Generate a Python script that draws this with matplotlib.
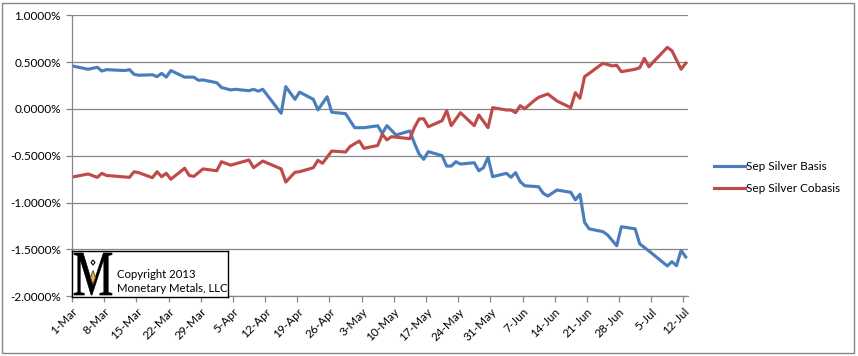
import numpy as np
import pandas as pd
import matplotlib
matplotlib.use('Agg')
import matplotlib.pyplot as plt
import matplotlib.dates as mdates
from matplotlib.ticker import FuncFormatter, MultipleLocator
from matplotlib.textpath import TextPath
from matplotlib.patches import PathPatch, Rectangle, Polygon
from matplotlib.transforms import Affine2D
from matplotlib.font_manager import FontProperties

#----------------------------------------------------------------------------

YEAR = 2013

basis_dates = ['1-Mar', '4-Mar', '6-Mar', '7-Mar', '8-Mar', '12-Mar', '13-Mar', '14-Mar',
               '15-Mar', '18-Mar', '19-Mar', '20-Mar', '21-Mar', '22-Mar', '25-Mar', '27-Mar',
               '28-Mar', '29-Mar', '1-Apr', '2-Apr', '4-Apr', '5-Apr', '8-Apr', '9-Apr',
               '10-Apr', '11-Apr', '15-Apr', '16-Apr', '18-Apr', '19-Apr', '22-Apr', '23-Apr',
               '25-Apr', '26-Apr', '29-Apr', '1-May', '3-May', '6-May', '7-May', '8-May',
               '10-May', '13-May', '14-May', '15-May', '16-May', '17-May', '20-May', '21-May',
               '22-May', '23-May', '24-May', '27-May', '28-May', '29-May', '30-May', '31-May',
               '3-Jun', '4-Jun', '5-Jun', '6-Jun', '7-Jun', '10-Jun', '11-Jun', '12-Jun',
               '14-Jun', '17-Jun', '18-Jun', '19-Jun', '20-Jun', '21-Jun', '24-Jun', '25-Jun',
               '27-Jun', '28-Jun', '1-Jul', '2-Jul', '4-Jul', '8-Jul', '9-Jul', '10-Jul',
               '11-Jul', '12-Jul']
basis_values = [0.455, 0.424, 0.445, 0.405, 0.42, 0.41, 0.42, 0.37,
                0.36, 0.365, 0.345, 0.38, 0.34, 0.41, 0.34, 0.34,
                0.306, 0.31, 0.28, 0.23, 0.203, 0.21, 0.195, 0.21,
                0.19, 0.21, -0.046, 0.238, 0.103, 0.18, 0.103, -0.01,
                0.13, -0.035, -0.05, -0.20, -0.20, -0.18, -0.26, -0.178,
                -0.278, -0.235, -0.367, -0.48, -0.537, -0.456, -0.498, -0.61,
                -0.61, -0.563, -0.588, -0.574, -0.66, -0.627, -0.516, -0.723,
                -0.687, -0.73, -0.68, -0.776, -0.82, -0.83, -0.90, -0.93,
                -0.865, -0.89, -0.97, -0.91, -1.21, -1.28, -1.31, -1.345,
                -1.46, -1.257, -1.28, -1.44, -1.516, -1.676, -1.63, -1.673,
                -1.51, -1.58]

cobasis_dates = ['1-Mar', '4-Mar', '6-Mar', '7-Mar', '8-Mar', '13-Mar', '14-Mar', '15-Mar',
                 '18-Mar', '19-Mar', '20-Mar', '21-Mar', '22-Mar', '25-Mar', '26-Mar', '27-Mar',
                 '29-Mar', '1-Apr', '2-Apr', '4-Apr', '8-Apr', '9-Apr', '11-Apr', '15-Apr',
                 '16-Apr', '18-Apr', '19-Apr', '22-Apr', '23-Apr', '24-Apr', '26-Apr', '29-Apr',
                 '30-Apr', '2-May', '3-May', '6-May', '7-May', '8-May', '9-May', '13-May',
                 '14-May', '15-May', '16-May', '17-May', '20-May', '21-May', '22-May', '24-May',
                 '27-May', '28-May', '30-May', '31-May', '3-Jun', '4-Jun', '5-Jun', '6-Jun',
                 '7-Jun', '9-Jun', '10-Jun', '12-Jun', '14-Jun', '17-Jun', '18-Jun', '19-Jun',
                 '20-Jun', '21-Jun', '24-Jun', '26-Jun', '27-Jun', '28-Jun', '1-Jul', '2-Jul',
                 '3-Jul', '4-Jul', '5-Jul', '8-Jul', '9-Jul', '11-Jul', '12-Jul']
cobasis_values = [-0.723, -0.694, -0.73, -0.687, -0.71, -0.73, -0.67, -0.68,
                  -0.734, -0.67, -0.723, -0.687, -0.75, -0.633, -0.71, -0.72,
                  -0.64, -0.66, -0.563, -0.60, -0.545, -0.627, -0.556, -0.64,
                  -0.78, -0.676, -0.67, -0.627, -0.548, -0.58, -0.449, -0.46,
                  -0.40, -0.342, -0.42, -0.39, -0.27, -0.33, -0.296, -0.317,
                  -0.196, -0.107, -0.104, -0.19, -0.125, -0.018, -0.178, -0.04,
                  -0.178, -0.064, -0.20, 0.014, -0.011, -0.011, -0.04, 0.035,
                  0.003, 0.088, 0.124, 0.16, 0.085, 0.014, 0.174, 0.114,
                  0.345, 0.38, 0.488, 0.46, 0.466, 0.398, 0.424, 0.44,
                  0.54, 0.45, 0.504, 0.658, 0.622, 0.424, 0.488]

series_labels = ['Sep Silver Basis', 'Sep Silver Cobasis']
series_colors = ['#4A7EBB', '#BE4B48']

#----------------------------------------------------------------------------

FONT = ['Lato', 'DejaVu Sans']
GRAY = '#868686'

def _toDates(labels):
    # Excel date axis puts each point in the middle of its day
    d = pd.to_datetime(['%s-%d' % (s, YEAR) for s in labels], format='%d-%b-%Y')
    return d + pd.Timedelta(hours=12)

def _drawLogo(fig):
    W, H = 858.0, 356.0
    box = fig.add_axes([72 / W, 1 - 296.5 / H, 156 / W, 45.5 / H])
    box.set_xlim(0, 156)
    box.set_ylim(0, 45.5)
    box.set_xticks([])
    box.set_yticks([])
    for s in box.spines.values():
        s.set_color('black')
        s.set_linewidth(1.0)

    # big serif M stretched to the logo size
    tp = TextPath((0, 0), 'M', size=1, prop=FontProperties(family='Liberation Serif'))
    ext = tp.get_extents()
    tr = Affine2D().translate(-ext.x0, -ext.y0).scale(38 / ext.width, 42 / ext.height).translate(2, 1.5)
    box.add_patch(PathPatch(tr.transform_path(tp), facecolor='black', edgecolor='black', linewidth=0.5))
    box.add_patch(Polygon([(21, 26), (23.5, 19), (21, 12), (18.5, 19)], closed=True,
                          facecolor='#F2B04A', edgecolor='#4A3A20', linewidth=0.6))
    box.add_patch(Polygon([(21, 36.5), (23, 34), (21, 31.5), (19, 34)], closed=True,
                          facecolor='white', edgecolor='black', linewidth=0.8))

    box.text(45, 22.5, 'Copyright 2013', fontsize=8.2, family=FONT, va='center', ha='left')
    box.text(45, 8.5, 'Monetary Metals, LLC', fontsize=8.2, family=FONT, va='center', ha='left')

#----------------------------------------------------------------------------

def basisChart():
    W, H = 858.0, 356.0
    fig = plt.figure(figsize=(W / 100, H / 100), dpi=100)
    fig.patch.set_facecolor('white')
    fig.add_artist(Rectangle((2 / W, 3 / H), 852 / W, 350 / H, transform=fig.transFigure,
                             fill=False, edgecolor=GRAY, linewidth=1.0))

    ax = fig.add_axes([72 / W, 1 - 296.3 / H, 616 / W, 281 / H])

    lines = []
    for dates, vals, c in [(basis_dates, basis_values, series_colors[0]),
                           (cobasis_dates, cobasis_values, series_colors[1])]:
        l, = ax.plot(_toDates(dates), vals, color=c, linewidth=2.25, solid_joinstyle='round')
        lines.append(l)

    ax.set_ylim(-2, 1)
    ax.yaxis.set_major_locator(MultipleLocator(0.5))
    ax.yaxis.set_major_formatter(FuncFormatter(lambda v, p: '%.4f%%' % v))
    ax.yaxis.grid(True, color=GRAY, linewidth=0.9)
    ax.set_axisbelow(True)

    start = pd.Timestamp('%d-03-01' % YEAR)
    end = pd.Timestamp('%d-07-13' % YEAR)
    ax.set_xlim(start, end)
    ticks = pd.date_range(start, '%d-07-12' % YEAR, freq='7D')
    ax.set_xticks(ticks)
    ax.xaxis.set_major_formatter(mdates.DateFormatter('%-d-%b'))

    for s in ['top', 'right']:
        ax.spines[s].set_visible(False)
    for s in ['left', 'bottom']:
        ax.spines[s].set_color(GRAY)
        ax.spines[s].set_linewidth(0.9)

    ax.tick_params(axis='both', colors=GRAY, length=4, width=0.9, labelcolor='black', labelsize=8.5)
    ax.tick_params(axis='y', pad=4)
    ax.tick_params(axis='x', pad=3)
    for lab in ax.get_xticklabels():
        lab.set_rotation(45)
        lab.set_ha('right')
        lab.set_rotation_mode('anchor')
        lab.set_family(FONT)
    for lab in ax.get_yticklabels():
        lab.set_family(FONT)

    ax.legend(lines, series_labels, loc='upper left', bbox_to_anchor=(714 / W, 1 - 161 / H),
              bbox_transform=fig.transFigure, frameon=False, handlelength=2.6, handletextpad=0.15,
              labelspacing=0.95, borderaxespad=0, borderpad=0, prop={'family': FONT, 'size': 8.5})

    _drawLogo(fig)

    fig.savefig('out.png', dpi=100)

#----------------------------------------------------------------------------

if __name__ == "__main__":
    basisChart()
